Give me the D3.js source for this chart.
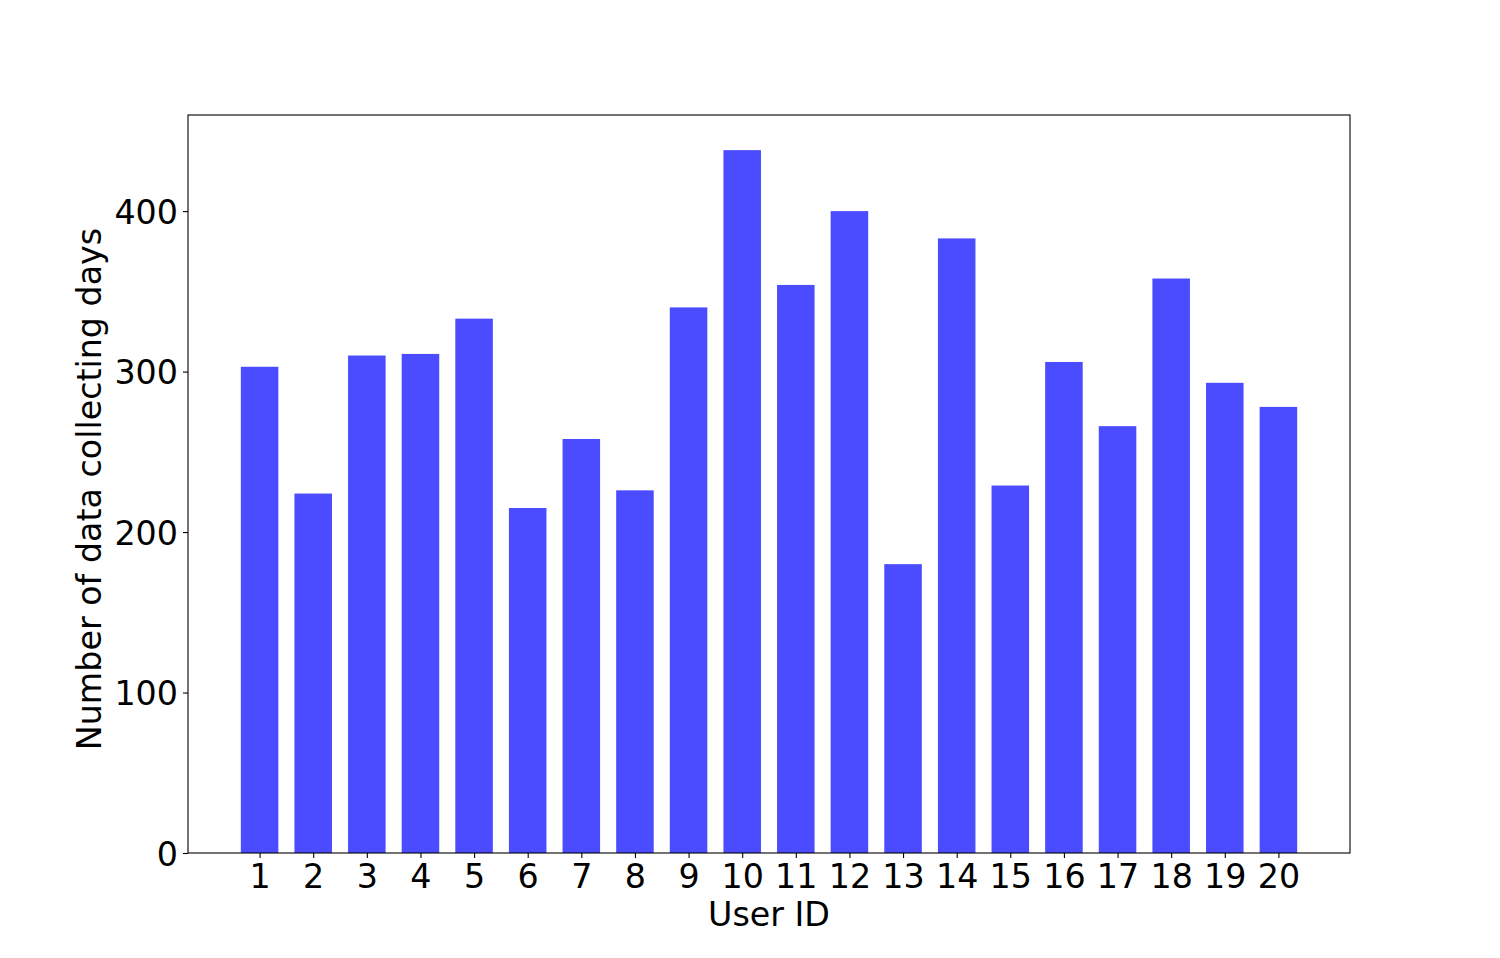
<!DOCTYPE html>
<html>
<head>
<meta charset="utf-8">
<script src="https://cdn.jsdelivr.net/npm/d3@7"></script>
<style>
  html, body { margin: 0; padding: 0; background: #fff; }
  text { font-family: "DejaVu Sans", sans-serif; fill: #000; }
</style>
</head>
<body>
<svg id="chart" width="1500" height="958"></svg>
<script>
const userIds = [1, 2, 3, 4, 5, 6, 7, 8, 9, 10, 11, 12, 13, 14, 15, 16, 17, 18, 19, 20];
const days = [303, 224, 310, 311, 333, 215, 258, 226, 340, 438, 354, 400, 180, 383, 229, 306, 266, 358, 293, 278];
const yTicks = [0, 100, 200, 300, 400];
const xLabel = "User ID";
const yLabel = "Number of data collecting days";

const svg = d3.select("#chart");
const margin = { left: 188, right: 150, top: 115, bottom: 105 };
const W = 1500, H = 958;
const barWidth = 0.7;
const fs = 33.3;

const x = d3.scaleLinear().domain([-0.335, 21.335]).range([margin.left, W - margin.right]);
const y = d3.scaleLinear().domain([0, 459.9]).range([H - margin.bottom, margin.top]);

// bars
svg.append("g").selectAll("rect").data(days).join("rect")
  .attr("x", (d, i) => x(userIds[i] - barWidth / 2))
  .attr("width", (d, i) => x(userIds[i] + barWidth / 2) - x(userIds[i] - barWidth / 2))
  .attr("y", d => y(d))
  .attr("height", d => y(0) - y(d))
  .attr("fill", "#4b4bff");

// frame
svg.append("rect")
  .attr("x", x.range()[0]).attr("y", y.range()[1])
  .attr("width", x.range()[1] - x.range()[0])
  .attr("height", y.range()[0] - y.range()[1])
  .attr("fill", "none").attr("stroke", "#000").attr("stroke-width", 1.1);

// x axis
const xAxis = d3.axisBottom(x).tickValues(userIds).tickFormat(d3.format("d")).tickSize(5).tickPadding(5);
const gx = svg.append("g").attr("transform", `translate(0,${y(0)})`).call(xAxis);
gx.select(".domain").remove();
gx.selectAll("line").attr("stroke", "#000").attr("stroke-width", 1.1);
gx.selectAll("text").attr("font-size", fs).attr("font-family", "DejaVu Sans").attr("dy", "0.74em");

// y axis
const yAxis = d3.axisLeft(y).tickValues(yTicks).tickFormat(d3.format("d")).tickSize(5).tickPadding(5);
const gy = svg.append("g").attr("transform", `translate(${x.range()[0]},0)`).call(yAxis);
gy.select(".domain").remove();
gy.selectAll("line").attr("stroke", "#000").attr("stroke-width", 1.1);
gy.selectAll("text").attr("font-size", fs).attr("font-family", "DejaVu Sans").attr("dy", "0.36em");

// axis labels
svg.append("text")
  .attr("x", (x.range()[0] + x.range()[1]) / 2)
  .attr("y", 926)
  .attr("text-anchor", "middle")
  .attr("font-size", fs)
  .text(xLabel);

svg.append("text")
  .attr("transform", `translate(101,${(y.range()[0] + y.range()[1]) / 2 + 5}) rotate(-90)`)
  .attr("text-anchor", "middle")
  .attr("font-size", fs)
  .text(yLabel);
</script>
</body>
</html>
